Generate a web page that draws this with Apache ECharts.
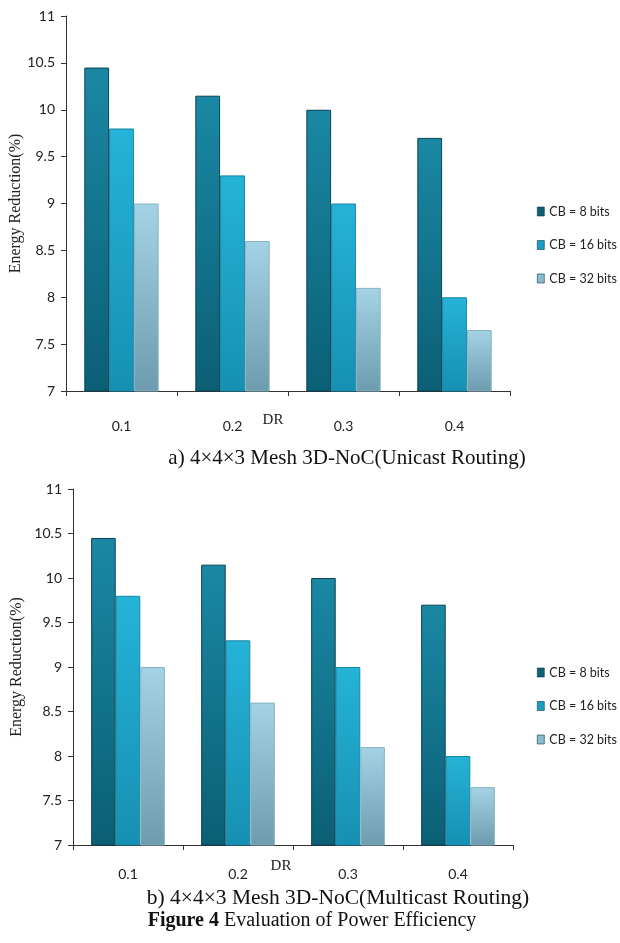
<!DOCTYPE html>
<html>
<head>
<meta charset="utf-8">
<script src="https://cdn.jsdelivr.net/npm/echarts@6/dist/echarts.min.js"></script>
<style>
html,body{margin:0;padding:0;background:#fff;}
#c{width:620px;height:943px;}
</style>
</head>
<body>
<div id="c"></div>
<script>
// ---- data ----
const categories = ['0.1', '0.2', '0.3', '0.4'];
const seriesNames = ['CB = 8 bits', 'CB = 16 bits', 'CB = 32 bits'];
// a) Unicast routing
const unicast8 = [10.45, 10.15, 10.0, 9.7];
const unicast16 = [9.8, 9.3, 9.0, 8.0];
const unicast32 = [9.0, 8.6, 8.1, 7.65];
// b) Multicast routing
const multicast8 = [10.45, 10.15, 10.0, 9.7];
const multicast16 = [9.8, 9.3, 9.0, 8.0];
const multicast32 = [9.0, 8.6, 8.1, 7.65];
// axis
const yMin = 7, yMax = 11, yStep = 0.5;
const xAxisName = 'DR';
const yAxisName = 'Energy Reduction(%)';
const captionA = 'a) 4×4×3 Mesh 3D-NoC(Unicast Routing)';
const captionB = 'b) 4×4×3 Mesh 3D-NoC(Multicast Routing)';
const figureLabel = 'Figure 4';
const figureText = ' Evaluation of Power Efficiency';

// ---- styling ----
function grad(top, bottom) {
  return new echarts.graphic.LinearGradient(0, 0, 0, 1, [
    { offset: 0, color: top }, { offset: 1, color: bottom }
  ]);
}
const barStyles = [
  { color: () => grad('#1a88a4', '#0b5f75'), border: '#0a4352', legend: '#0f5f75' },
  { color: () => grad('#25b3d8', '#1690b2'), border: '#1786a5', legend: '#1a9dc2' },
  { color: () => grad('#a3d3e5', '#6d9caf'), border: '#86b3c4', legend: '#8dbccd' }
];
const tickFont = 'Lato, "Open Sans", sans-serif';
const serif = '"Liberation Serif", "DejaVu Serif", serif';
const axisColor = '#333';

function makeX(gridIndex, nameGap, namePad, labelMargin) {
  return {
    type: 'category', gridIndex, data: categories,
    name: xAxisName, nameLocation: 'middle', nameGap, nameMoveOverlap: false,
    nameTextStyle: { fontFamily: serif, fontSize: 15, color: '#222', padding: namePad },
    axisLine: { lineStyle: { color: axisColor, width: 1 } },
    axisTick: { show: true, length: 5, alignWithLabel: false, lineStyle: { color: axisColor } },
    axisLabel: { fontFamily: tickFont, fontSize: 14, color: '#222', margin: labelMargin },
    splitLine: { show: false }
  };
}
function makeY(gridIndex, nameGap) {
  return {
    type: 'value', gridIndex, min: yMin, max: yMax, interval: yStep,
    name: yAxisName, nameLocation: 'middle', nameRotate: 90, nameGap, nameMoveOverlap: false,
    nameTextStyle: { fontFamily: serif, fontSize: 16, color: '#222' },
    axisLine: { show: true, lineStyle: { color: axisColor, width: 1 } },
    axisTick: { show: true, length: 5, lineStyle: { color: axisColor } },
    axisLabel: { fontFamily: tickFont, fontSize: 14, color: '#222', margin: 11 },
    splitLine: { show: false }
  };
}
function makeSeries(gridIndex, arrays) {
  return arrays.map((arr, i) => ({
    name: seriesNames[i], type: 'bar',
    xAxisIndex: gridIndex, yAxisIndex: gridIndex,
    data: arr,
    barGap: '0%', barCategoryGap: '33%',
    itemStyle: { color: barStyles[i].color(), borderColor: barStyles[i].border, borderWidth: 1 },
    emphasis: { disabled: true }
  }));
}
function makeLegend(top) {
  return {
    orient: 'vertical', left: 537, top, padding: 0,
    icon: 'rect', itemWidth: 7, itemHeight: 9, itemGap: 18.5,
    textStyle: { fontFamily: tickFont, fontSize: 12.5, color: '#222', lineHeight: 15 },
    data: seriesNames.map((n, i) => ({
      name: n, itemStyle: { color: barStyles[i].legend, borderColor: '#0a3c4a', borderWidth: 0.6 }
    }))
  };
}

const chart = echarts.init(document.getElementById('c'), null, { renderer: 'canvas' });
chart.setOption({
  animation: false,
  backgroundColor: '#fff',
  grid: [
    { left: 66, top: 16, width: 444, height: 375, outerBoundsMode: 'none', containLabel: false },
    { left: 73, top: 489, width: 440, height: 356, outerBoundsMode: 'none', containLabel: false }
  ],
  xAxis: [makeX(0, 22, [0, 30, 0, 0], 28), makeX(1, 14, [0, 24, 0, 0], 22)],
  yAxis: [makeY(0, 42), makeY(1, 48)],
  legend: [makeLegend(204), makeLegend(665)],
  series: makeSeries(0, [unicast8, unicast16, unicast32])
    .concat(makeSeries(1, [multicast8, multicast16, multicast32])),
  graphic: [
    { type: 'text', x: 347, y: 458, style: { text: captionA, font: '21px ' + serif, fill: '#111', textAlign: 'center', textVerticalAlign: 'middle' } },
    { type: 'text', x: 338, y: 898, style: { text: captionB, font: '21.5px ' + serif, fill: '#111', textAlign: 'center', textVerticalAlign: 'middle' } },
    { type: 'text', x: 312, y: 921, style: {
        text: '{b|' + figureLabel + '}' + figureText,
        font: '20px ' + serif, fill: '#111', textAlign: 'center', textVerticalAlign: 'middle',
        rich: { b: { fontWeight: 'bold', fontFamily: serif, fontSize: 20, fill: '#111' } }
      } }
  ]
});
</script>
</body>
</html>
